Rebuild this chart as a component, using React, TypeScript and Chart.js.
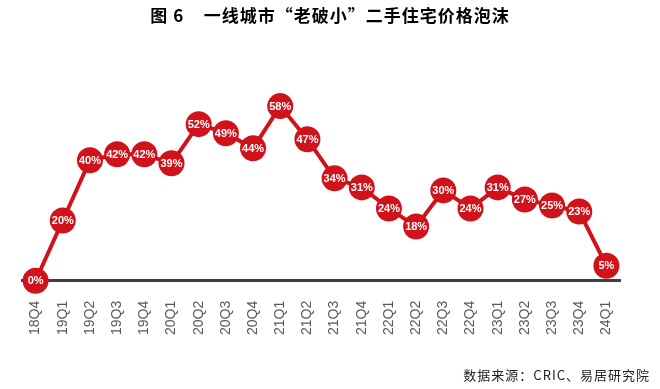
import React, { useEffect, useRef } from "react";
import { Chart, registerables } from "chart.js";

Chart.register(...registerables);

const categories = ["18Q4","19Q1","19Q2","19Q3","19Q4","20Q1","20Q2","20Q3","20Q4","21Q1","21Q2","21Q3","21Q4","22Q1","22Q2","22Q3","22Q4","23Q1","23Q2","23Q3","23Q4","24Q1"];
const bubbleValues = [0,20,40,42,42,39,52,49,44,58,47,34,31,24,18,30,24,31,27,25,23,5];
const titleText = "图 6    一线城市“老破小”二手住宅价格泡沫";
const sourceText = "数据来源：CRIC、易居研究院";

const RED = "#D0121B";

const textPlugin = {
  id: "textPlugin",
  afterDatasetsDraw(chart: any) {
    const ctx = chart.ctx;
    const meta = chart.getDatasetMeta(0);
    ctx.save();
    ctx.fillStyle = "#ffffff";
    ctx.font = "bold 11px 'Liberation Sans', Arial, sans-serif";
    ctx.textAlign = "center";
    ctx.textBaseline = "middle";
    meta.data.forEach((pt: any, i: number) => {
      ctx.fillText(bubbleValues[i] + "%", pt.x, pt.y + 0.5);
    });
    ctx.restore();
  },
  afterDraw(chart: any) {
    const ctx = chart.ctx;
    ctx.save();
    ctx.fillStyle = "#000000";
    ctx.font = "bold 17px 'Noto Sans CJK SC', serif";
    ctx.textAlign = "center";
    ctx.textBaseline = "middle";
    (ctx as any).letterSpacing = "1px";
    ctx.fillText(titleText, 330, 16);
    ctx.font = "13px 'Noto Sans CJK SC', monospace";
    (ctx as any).letterSpacing = "1px";
    ctx.fillStyle = "#222222";
    ctx.textAlign = "right";
    ctx.fillText(sourceText, 650, 375);
    ctx.restore();
  },
};

export default function App() {
  const ref = useRef<HTMLCanvasElement>(null);
  useEffect(() => {
    if (!ref.current) return;
    const chart = new Chart(ref.current, {
      type: "line",
      data: {
        labels: categories,
        datasets: [
          {
            data: bubbleValues,
            borderColor: RED,
            backgroundColor: RED,
            borderWidth: 4,
            pointRadius: 13,
            pointHoverRadius: 13,
            pointBackgroundColor: RED,
            pointBorderWidth: 0,
            tension: 0,
            clip: false as any,
          },
        ],
      },
      options: {
        animation: false,
        responsive: false,
        events: [],
        layout: { padding: { top: 85, left: 22, right: 40, bottom: 34 } },
        plugins: { legend: { display: false }, tooltip: { enabled: false }, title: { display: false } },
        scales: {
          x: {
            offset: true,
            grid: { display: false, drawTicks: false },
            border: { display: true, color: "#404040", width: 3 },
            ticks: {
              minRotation: 90,
              maxRotation: 90,
              padding: 20,
              color: "#595959",
              font: { size: 14, family: "'Liberation Sans', Arial, sans-serif" },
            },
          },
          y: { display: false, min: 0, max: 65 },
        },
      },
      plugins: [textPlugin],
    });
    return () => chart.destroy();
  }, []);
  return (
    <div style={{ position: "absolute", left: 0, top: 0, width: 660, height: 389, background: "#fff" }}>
      <canvas ref={ref} width={660} height={389} style={{ width: 660, height: 389 }} />
    </div>
  );
}
